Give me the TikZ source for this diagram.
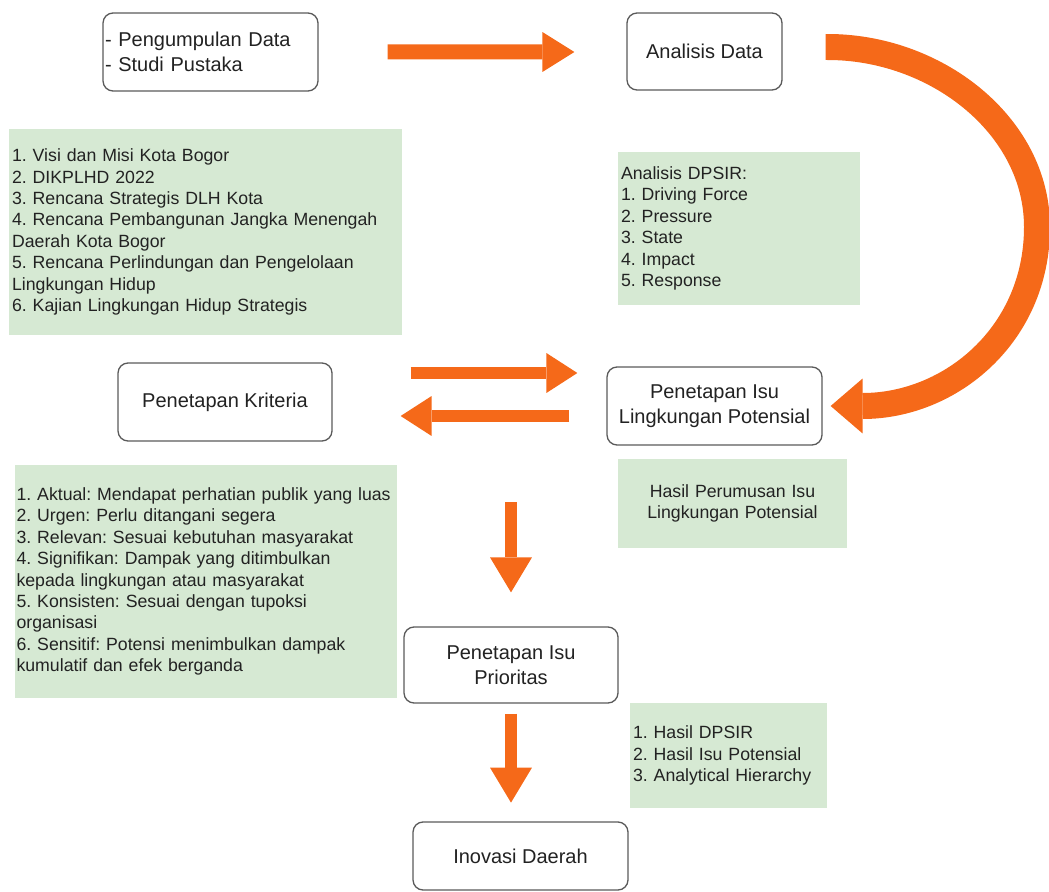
\documentclass[tikz,border=0pt]{standalone}
\usepackage{fontspec}
\setmainfont{Liberation Sans}
\usetikzlibrary{arrows.meta,calc}
\frenchspacing

\definecolor{oranye}{RGB}{245,105,25}
\definecolor{hijau}{RGB}{214,233,211}
\definecolor{garis}{RGB}{90,90,90}
\definecolor{teks}{RGB}{34,34,34}

\def\fkotak{\fontsize{11.38pt}{14.23pt}\selectfont\frenchspacing}
\def\fnote{\fontsize{10.08pt}{12.18pt}\selectfont\frenchspacing}

\tikzstyle{kotak}=[shape=rectangle,rounded corners=0.2cm,draw=garis,line width=0.75pt,fill=white,text=teks,font=\fkotak,align=center,inner sep=0pt]
\tikzstyle{catatan}=[shape=rectangle,fill=hijau,text=teks,font=\fnote,align=left,inner xsep=0.06cm,inner ysep=0pt]
\tikzstyle{panah}=[color=oranye,line width=0.3cm,-{Triangle[length=0.64cm,width=0.8cm,line width=0pt]}]
\tikzstyle{panahtipis}=[color=oranye,line width=0.26cm,-{Triangle[length=0.62cm,width=0.8cm,line width=0pt]}]
\tikzstyle{panahturun}=[color=oranye,line width=0.24cm,-{Triangle[length=0.7cm,width=0.84cm,line width=0pt]}]
\tikzstyle{panahlengkung}=[color=oranye,line width=0.52cm,-{Triangle[length=0.64cm,width=1.1cm,line width=0pt]}]

\begin{document}
\begin{tikzpicture}[x=0.02cm,y=-0.02cm]
\useasboundingbox (0,0) rectangle (1049,892);

% baris atas
\node[kotak,minimum width=4.3cm,minimum height=1.56cm,align=left,text width=4.22cm] (box_1) at (210.5,52) {- Pengumpulan Data\\- Studi Pustaka};
\node[kotak,minimum width=3.1cm,minimum height=1.54cm] (box_2) at (704.5,51.5) {Analisis Data};

% catatan atas
\node[catatan,text width=7.74cm,minimum height=4.12cm] (note_1) at (205.5,232) {1. Visi dan Misi Kota Bogor\\2. DIKPLHD 2022\\3. Rencana Strategis DLH Kota\\4. Rencana Pembangunan Jangka Menengah\\Daerah Kota Bogor\\5. Rencana Perlindungan dan Pengelolaan\\Lingkungan Hidup\\6. Kajian Lingkungan Hidup Strategis};
\node[catatan,text width=4.72cm,minimum height=3.06cm] (note_2) at (739,228.5) {Analisis DPSIR:\\1. Driving Force\\2. Pressure\\3. State\\4. Impact\\5. Response};

% baris tengah
\node[kotak,minimum width=4.28cm,minimum height=1.56cm] (box_3) at (225,402) {Penetapan Kriteria};
\node[kotak,minimum width=4.3cm,minimum height=1.56cm] (box_4) at (714.5,406) {Penetapan Isu\\Lingkungan Potensial};
\node[catatan,text width=4.46cm,minimum height=1.78cm,align=center] (note_3) at (732.5,503.5) {Hasil Perumusan Isu\\Lingkungan Potensial};
\node[catatan,inner xsep=0.03cm,text width=7.58cm,minimum height=4.66cm] (note_4) at (206,581.5) {\mbox{1. Aktual: Mendapat perhatian publik yang luas}\\2. Urgen: Perlu ditangani segera\\3. Relevan: Sesuai kebutuhan masyarakat\\4. Signifikan: Dampak yang ditimbulkan\\kepada lingkungan atau masyarakat\\5. Konsisten: Sesuai dengan tupoksi\\organisasi\\6. Sensitif: Potensi menimbulkan dampak\\kumulatif dan efek berganda};

% baris bawah
\node[kotak,minimum width=4.28cm,minimum height=1.52cm] (box_5) at (511,665) {Penetapan Isu\\Prioritas};
\node[catatan,text width=3.82cm,minimum height=2.1cm] (note_5) at (728.5,755.5) {1. Hasil DPSIR\\2. Hasil Isu Potensial\\3. Analytical Hierarchy};
\node[kotak,minimum width=4.3cm,minimum height=1.36cm] (box_6) at (520.5,856) {Inovasi Daerah};

% panah
\draw[panah] ($(box_1.east)+(69,0)$) -- ($(box_2.west)+(-52,0.5)$);
\draw[panahlengkung] ($(box_2.east)+(43,-4.5)$) .. controls (935,46) and (1037,125) .. (1037,227)
    .. controls (1037,335) and (950,406) .. ($(box_4.east)+(8,0)$);
\draw[panahtipis] ($(box_3.east)+(78,-29)$) -- ($(box_4.west)+(-29,-33)$);
\draw[panahtipis] ($(box_4.west)+(-37,10)$) -- ($(box_3.east)+(68,14)$);
\draw[panahturun] ($(box_5.north)+(0,-124)$) -- ($(box_5.north)+(0,-34)$);
\draw[panahturun] ($(box_5.south)+(0,10)$) -- ($(box_5.south)+(0,99)$);
\end{tikzpicture}
\end{document}
